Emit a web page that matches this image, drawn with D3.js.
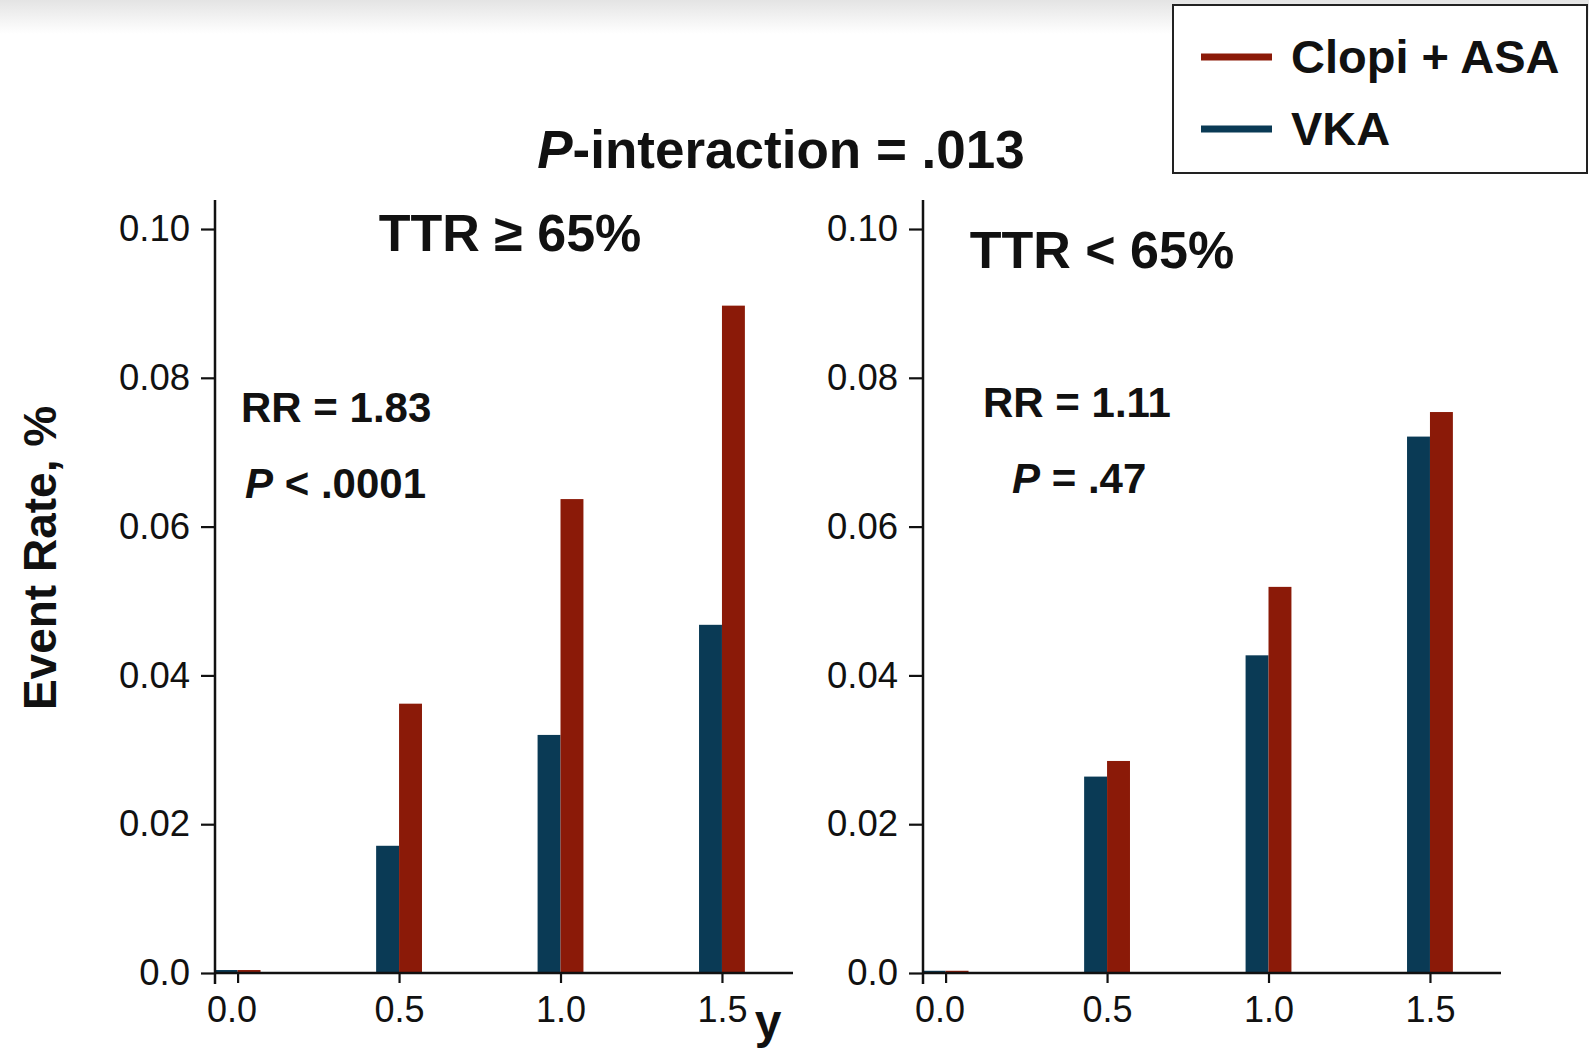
<!DOCTYPE html>
<html><head><meta charset="utf-8">
<script src="https://cdn.jsdelivr.net/npm/d3@7"></script>
<style>
body{margin:0;background:#fff}
svg{display:block}
text{font-family:"Liberation Sans", Arial, sans-serif}
</style>
</head><body>
<svg id="chart" width="1589" height="1049"></svg>
<script>
// ---- data ----
const timePoints   = [0.0, 0.5, 1.0, 1.5];
const xTickLabels  = ["0.0", "0.5", "1.0", "1.5"];
const yTicks       = [0, 0.02, 0.04, 0.06, 0.08, 0.10];
const yTickLabels  = ["0.0", "0.02", "0.04", "0.06", "0.08", "0.10"];
const seriesNames  = ["Clopi + ASA", "VKA"];
const highTTR_VKA   = [0.0004, 0.0171, 0.0320, 0.0468];
const highTTR_Clopi = [0.0004, 0.0362, 0.0637, 0.0897];
const lowTTR_VKA    = [0.0003, 0.0264, 0.0427, 0.0721];
const lowTTR_Clopi  = [0.0003, 0.0285, 0.0519, 0.0754];
const panelTitles   = ["TTR \u2265 65%", "TTR < 65%"];
const rrLabels      = ["RR = 1.83", "RR = 1.11"];
const pLabels       = ["< .0001", "= .47"];
const mainTitle     = "-interaction = .013";

const colors = {clopi: "#8b1a08", vka: "#0a3a55"};
const svg = d3.select("#chart");
const FONT = '"Liberation Sans", Arial, sans-serif';

// background top band
const defs = svg.append("defs");
const grad = defs.append("linearGradient").attr("id","topg").attr("x1",0).attr("y1",0).attr("x2",0).attr("y2",1);
grad.append("stop").attr("offset","0%").attr("stop-color","#e4e4e4");
grad.append("stop").attr("offset","100%").attr("stop-color","#ffffff");
svg.append("rect").attr("x",0).attr("y",0).attr("width",1589).attr("height",34).attr("fill","url(#topg)");

const y = d3.scaleLinear().domain([0, 0.1039]).range([973, 200]);

const panels = [
  {axisX: 215, vka: highTTR_VKA, clopi: highTTR_Clopi, title: panelTitles[0], titleX: 510, titleY: 251,
   rr: rrLabels[0], rrX: 241, rrY: 422, p: pLabels[0], pX: 245, pY: 498},
  {axisX: 923, vka: lowTTR_VKA, clopi: lowTTR_Clopi, title: panelTitles[1], titleX: 1102, titleY: 268,
   rr: rrLabels[1], rrX: 983, rrY: 417, p: pLabels[1], pX: 1012, pY: 493}
];

const barW = 0.071;

panels.forEach(p => {
  const x = d3.scaleLinear().domain([-0.07, 1.72]).range([p.axisX, p.axisX + 578]);
  const g = svg.append("g");

  // bars
  g.selectAll("rect.vka").data(timePoints).enter().append("rect")
    .attr("x", d => x(d - barW)).attr("width", d => x(d) - x(d - barW))
    .attr("y", (d,i) => y(p.vka[i])).attr("height", (d,i) => y(0) - y(p.vka[i]))
    .attr("fill", colors.vka);
  g.selectAll("rect.clopi").data(timePoints).enter().append("rect")
    .attr("x", d => x(d)).attr("width", d => x(d + barW) - x(d))
    .attr("y", (d,i) => y(p.clopi[i])).attr("height", (d,i) => y(0) - y(p.clopi[i]))
    .attr("fill", colors.clopi);

  // y axis
  const yAxis = d3.axisLeft(y).tickValues(yTicks).tickFormat((d,i) => yTickLabels[i])
    .tickSize(14).tickSizeOuter(0).tickPadding(11);
  const ya = g.append("g").attr("transform", `translate(${p.axisX},0)`).call(yAxis);
  ya.select(".domain").attr("d", `M0,${y.range()[1]}V${y(0) + 11}`);
  ya.selectAll("line").attr("stroke", "#111").attr("stroke-width", 2.2);
  ya.select(".domain").attr("stroke", "#111").attr("stroke-width", 2.5);
  ya.selectAll("text").attr("font-size", 36.5).attr("fill", "#111").attr("dy", "0.32em")
    .style("font-family", FONT);

  // x axis
  const xAxis = d3.axisBottom(x).tickValues(timePoints).tickFormat((d,i) => xTickLabels[i])
    .tickSize(10).tickSizeOuter(0).tickPadding(13);
  const xa = g.append("g").attr("transform", `translate(0,${y(0)})`).call(xAxis);
  xa.select(".domain").attr("d", `M${p.axisX},0H${x.range()[1]}`).attr("stroke", "#111").attr("stroke-width", 2.5);
  xa.selectAll("line").attr("stroke", "#111").attr("stroke-width", 2.2);
  xa.selectAll("text").attr("font-size", 36).attr("fill", "#111")
    .attr("dx", (d,i) => i === 0 ? -6 : 0)
    .style("font-family", FONT);

  // panel title
  g.append("text").attr("x", p.titleX).attr("y", p.titleY).attr("text-anchor", "middle")
    .attr("font-size", 52).attr("font-weight", "bold").attr("fill", "#111").text(p.title);

  // RR and P
  g.append("text").attr("x", p.rrX).attr("y", p.rrY)
    .attr("font-size", 42).attr("font-weight", "bold").attr("fill", "#111").text(p.rr);
  const pt = g.append("text").attr("x", p.pX).attr("y", p.pY)
    .attr("font-size", 42).attr("font-weight", "bold").attr("fill", "#111");
  pt.append("tspan").attr("font-style", "italic").text("P");
  pt.append("tspan").text(" " + p.p);
});

// main title
const mt = svg.append("text").attr("x", 781).attr("y", 168).attr("text-anchor", "middle")
  .attr("font-size", 53).attr("font-weight", "bold").attr("fill", "#111");
mt.append("tspan").attr("font-style", "italic").text("P");
mt.append("tspan").text(mainTitle);

// y axis title
svg.append("text").attr("transform", "translate(56,558) rotate(-90)").attr("text-anchor", "middle")
  .attr("font-size", 46).attr("font-weight", "bold").attr("fill", "#111").text("Event Rate, %");

// x unit label
svg.append("text").attr("x", 768).attr("y", 1038).attr("text-anchor", "middle")
  .attr("font-size", 48).attr("font-weight", "bold").attr("fill", "#111").text("y");

// legend
const lg = svg.append("g");
lg.append("rect").attr("x", 1173).attr("y", 5).attr("width", 414).attr("height", 168)
  .attr("fill", "#fff").attr("stroke", "#222").attr("stroke-width", 2);
const legendItems = [{name: seriesNames[0], color: colors.clopi, ly: 57, ty: 73},
                     {name: seriesNames[1], color: colors.vka, ly: 129, ty: 145}];
legendItems.forEach(it => {
  lg.append("line").attr("x1", 1201).attr("x2", 1272).attr("y1", it.ly).attr("y2", it.ly)
    .attr("stroke", it.color).attr("stroke-width", 7);
  lg.append("text").attr("x", 1291).attr("y", it.ty).attr("font-size", 47).attr("font-weight", "bold")
    .attr("fill", "#111").text(it.name);
});
</script>
</body></html>
